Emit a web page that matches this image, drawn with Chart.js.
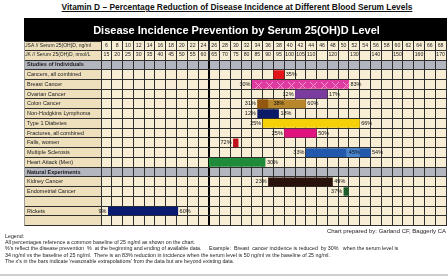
<!DOCTYPE html>
<html><head><meta charset="utf-8">
<script src="https://cdn.jsdelivr.net/npm/chart.js@4.4.1/dist/chart.umd.min.js"></script>
<style>
html,body{margin:0;padding:0;width:448px;height:278px;background:#fff;overflow:hidden;font-family:"Liberation Sans",Arial,sans-serif;}
#title{position:absolute;left:0;width:474px;top:3px;text-align:center;font-weight:bold;font-size:8.4px;line-height:9px;text-decoration:underline;color:#111;}
#cv{position:absolute;left:22px;top:18px;}
#credit{position:absolute;right:2px;top:228px;font-size:6px;line-height:7px;color:#222;}
#legend{position:absolute;left:5px;top:233px;font-size:5.3px;line-height:6.2px;color:#222;white-space:pre;}
#rule{position:absolute;left:0;top:274px;width:448px;height:2px;background:#cfcfcf;}
</style></head><body>
<div id="title">Vitamin D – Percentage Reduction of Disease Incidence at Different Blood Serum Levels</div>
<canvas id="cv" width="425" height="211"></canvas>
<div id="credit">Chart prepared by: Garland CF, Baggerly CA</div>
<div id="legend">Legend:
All percentages reference a common baseline of 25 ng/ml as shown on the chart.
%'s reflect the disease prevention  %  at the beginning and ending of available data.     Example:  Breast  cancer incidence is reduced  by 30%   when the serum level is
34 ng/ml vs the baseline of 25 ng/ml.  There is an 83% reduction in incidence when the serum level is 50 ng/ml vs the baseline of 25 ng/ml.
The x's in the bars indicate 'reasonable extrapolations' from the data but are beyond existing data.</div>
<div id="rule"></div>
<script>
// ---------- data ----------
const rowLabels = ['Studies of Individuals','Cancers, all combined','Breast Cancer','Ovarian Cancer','Colon Cancer','Non-Hodgkins Lymphoma','Type 1 Diabetes','Fractures, all combined','Falls, women','Multiple Sclerosis','Heart Attack (Men)','Natural Experiments','Kidney Cancer','Endometrial Cancer','','Rickets',''];
const groupRows = ['Studies of Individuals','Natural Experiments'];
const usaTicks = [6,8,10,12,14,16,18,20,22,24,26,28,30,32,34,36,38,40,42,44,46,48,50,52,54,56,58,60,62,64,66,68];
const ukTicks = ['15','20','25','30','35','40','45','50','55','60','65','70','75','80','85','90','95','100','105','110','','120','','130','','140','','150','','160','','170'];
const usaHeader = 'USA // Serum 25(OH)D, ng/ml';
const ukHeader = 'UK // Serum 25(OH)D, nmol/L';
const baseline = 25;
const barFrom = [null,37,33,41,34,34,35,39,29.5,43,25,null,36,50,null,6.3,null];
const barTo   = [null,39,51,47,43,38,53,45,30.5,55,35.5,null,48,51,null,19.3,null];
const shadeFrom = [null,null,null,null,34,null,null,null,null,50.5,null,null,null,null,null,null,null];
const shadeTo   = [null,null,null,null,36,null,null,null,null,53,null,null,null,null,null,null,null];
const startPct = ['','','30%','12%','31%','12%','25%','25%','72%','33%','','','23%','37%','','9%',''];
const endPct   = ['','35%','83%','17%','60%','18%','66%','50%','','54%','30%','','49%','','','60%',''];
const midPct   = ['','','','','38%','','','','','45%','','','','','','',''];
const midAt    = [null,null,null,null,38,null,null,null,null,52,null,null,null,null,null,null,null];

// ---------- styles ----------
const FONT = '"Liberation Sans", Arial, sans-serif';
const labelBg = '#eee0bd', cellBg = '#f8eed6', groupBg = '#b3b5bf', gridC = '#2e2e2e';
const cv = document.getElementById('cv');
function xPattern(bg, fg){
  const c = document.createElement('canvas'); c.width = 11; c.height = 9;
  const g = c.getContext('2d'); g.fillStyle = bg; g.fillRect(0,0,11,9);
  g.strokeStyle = fg; g.lineWidth = 1; g.beginPath();
  g.moveTo(2,1); g.lineTo(9,8); g.moveTo(9,1); g.lineTo(2,8); g.stroke();
  return cv.getContext('2d').createPattern(c,'repeat');
}
const barColors = ['#000','#e3151b',xPattern('#df3a9f','#f293cf'),'#7a3c9e','#b8862b','#0b1a66','#f6d10a','#e0147e','#c0101c','#2259ac','#1f8a3a','#000','#2a120c','#1b5c2a','#000','#0a1a70','#000'];
const shadeColors = ['','','','','#94570f','','','','','#4a84cc','','','','','','',''];

const tablePlugin = {
  id: 'table',
  beforeDraw(chart){
    const {ctx, chartArea:a, scales} = chart;
    const usa = scales.usa, uk = scales.uk, y = scales.y;
    const W = chart.width, tb = chart.titleBlock;
    ctx.save();
    ctx.fillStyle = '#000';
    ctx.fillRect(2, tb.top, W - 2, tb.bottom - tb.top);
    ctx.fillStyle = labelBg; ctx.fillRect(2, usa.top, a.left - 2, uk.bottom - usa.top);
    ctx.fillStyle = cellBg; ctx.fillRect(a.left, usa.top, a.right - a.left, uk.bottom - usa.top);
    ctx.fillStyle = labelBg; ctx.fillRect(2, a.top, a.left - 2, a.bottom - a.top);
    ctx.fillStyle = cellBg; ctx.fillRect(a.left, a.top, a.right - a.left, a.bottom - a.top);
    const half = (a.bottom - a.top) / rowLabels.length / 2;
    rowLabels.forEach((lab, i) => {
      if (groupRows.includes(lab)) {
        const c = y.getPixelForValue(i);
        ctx.fillStyle = groupBg; ctx.fillRect(2, c - half, a.right - 2, half * 2);
      }
    });
    ctx.restore();
  },
  afterDatasetsDraw(chart){
    const {ctx, scales} = chart;
    const meta = chart.getDatasetMeta(0), xs = scales.x;
    ctx.save();
    ctx.font = '5.5px ' + FONT; ctx.fillStyle = '#111'; ctx.textBaseline = 'middle';
    meta.data.forEach((bar, i) => {
      if (barFrom[i] == null) return;
      const l = Math.min(bar.x, bar.base), r = Math.max(bar.x, bar.base);
      if (startPct[i]) { ctx.textAlign = 'right'; ctx.fillText(startPct[i], l - 1.5, bar.y); }
      if (endPct[i]) { ctx.textAlign = 'left'; ctx.fillText(endPct[i], r + 1.5, bar.y); }
      if (midPct[i]) { ctx.textAlign = 'center'; ctx.fillText(midPct[i], xs.getPixelForValue(midAt[i]), bar.y); }
    });
    ctx.restore();
  },
  afterDraw(chart){
    const {ctx, chartArea:a, scales} = chart;
    const usa = scales.usa, uk = scales.uk;
    ctx.save();
    ctx.font = '5px ' + FONT; ctx.fillStyle = '#222'; ctx.textBaseline = 'middle'; ctx.textAlign = 'left';
    ctx.fillText(usaHeader, 2, (usa.top + usa.bottom) / 2);
    ctx.fillText(ukHeader, 2, (uk.top + uk.bottom) / 2);
    ctx.strokeStyle = gridC; ctx.lineWidth = 1; ctx.beginPath();
    [usa.top, usa.bottom].forEach(v => { const yy = Math.round(v) + 0.5; ctx.moveTo(2, yy); ctx.lineTo(a.left, yy); });
    ctx.stroke();
    ctx.strokeStyle = '#9a9a9a'; ctx.beginPath(); ctx.moveTo(2.5, usa.top); ctx.lineTo(2.5, a.bottom); ctx.stroke();
    ctx.restore();
  }
};

const topAxis = (weight, h, labels) => ({
  type: 'linear', position: 'top', min: 5, max: 69, weight,
  afterBuildTicks: s => { s.ticks = usaTicks.map(v => ({value: v})); },
  afterFit: s => { s.height = h; },
  grid: {display: true, drawOnChartArea: false, offset: true, tickLength: h, color: gridC,
         lineWidth: c => c.index === 10 ? 2 : 1},
  border: {display: true, color: gridC},
  ticks: {autoSkip: false, maxRotation: 0, minRotation: 0, padding: -(h / 2 + 3),
          color: '#222', font: {family: FONT, size: 5.2},
          callback: (v, i) => labels[i]}
});

new Chart(cv, {
  type: 'bar',
  data: {
    labels: rowLabels,
    datasets: [
      {data: rowLabels.map((_, i) => barFrom[i] == null ? null : [barFrom[i], barTo[i]]),
       backgroundColor: barColors, barPercentage: 0.88, categoryPercentage: 1, grouped: false, order: 2},
      {data: rowLabels.map((_, i) => shadeFrom[i] == null ? null : [shadeFrom[i], shadeTo[i]]),
       backgroundColor: shadeColors, barPercentage: 0.88, categoryPercentage: 1, grouped: false, order: 1}
    ]
  },
  options: {
    indexAxis: 'y', responsive: false, animation: false, devicePixelRatio: 1,
    layout: {padding: {left: 5, right: 1, top: 0, bottom: 0}},
    plugins: {
      legend: {display: false}, tooltip: {enabled: false},
      title: {display: true, text: 'Disease Incidence Prevention by Serum 25(OH)D Level', color: '#fff',
              font: {family: FONT, size: 11, weight: 'bold', lineHeight: 1}, padding: {top: 7, bottom: 5}}
    },
    scales: {
      x: {type: 'linear', position: 'bottom', min: 5, max: 69,
          afterBuildTicks: s => { s.ticks = usaTicks.map(v => ({value: v - 1})).concat([{value: usaTicks[usaTicks.length - 1] + 1}]); },
          afterFit: s => { s.height = 0; },
          ticks: {display: false}, border: {display: false},
          grid: {color: c => c.tick && c.tick.value === baseline ? '#000' : gridC,
                 lineWidth: c => c.tick && c.tick.value === baseline ? 2 : 1, drawTicks: false}},
      usa: topAxis(1, 9, usaTicks.map(String)),
      uk: topAxis(0, 10, ukTicks),
      y: {type: 'category', position: 'left', offset: true,
          afterFit: s => { s.width = 74; },
          grid: {offset: true, color: gridC, tickLength: 77},
          border: {display: true, color: gridC},
          ticks: {autoSkip: false, crossAlign: 'far', padding: 0, color: '#1a1a1a',
                  font: c => ({family: FONT, size: 5.5, weight: groupRows.includes(rowLabels[c.index]) ? 'bold' : 'normal'})}}
    }
  },
  plugins: [tablePlugin]
});
</script>
</body></html>
